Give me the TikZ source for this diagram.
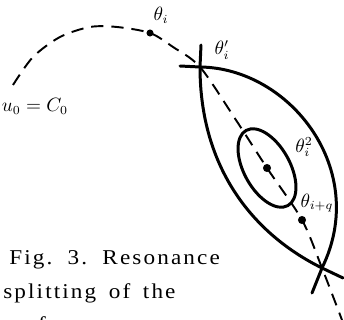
\documentclass[tikz,border=0pt]{standalone}
\usepackage{fontspec}
\newfontfamily\capfont{Liberation Serif}[LetterSpace=10,FakeStretch=1.1,WordSpace=1.6]
\usetikzlibrary{positioning}

\begin{document}
\begin{tikzpicture}[
  x=0.02cm, y=-0.02cm,
  branch/.style={line width=1.7pt, line cap=round, line join=round},
  axisline/.style={line width=1.1pt, dash pattern=on 7pt off 4.5pt},
  spot/.style={circle, fill, inner sep=0pt, minimum size=#1},
  spot/.default=4.6pt,
  lbl/.style={font=\fontsize{10.5}{12}\selectfont, inner sep=0pt},
  capline/.style={anchor=base west, inner sep=0pt,
    font=\capfont\fontsize{12}{14}\selectfont}]
  \useasboundingbox (0,0) rectangle (344,320);
  \clip (0,0) rectangle (344,320);
  % points on the dashed line
  \coordinate (x1) at (200,67);
  \coordinate (x2) at (322,268);
  \coordinate (c) at (267,168);
  \coordinate (thi) at (150,33);
  \coordinate (tq) at (302,220);
  % the two separatrix branches
  \draw[branch] (180,66) -- (x1) .. controls (290,68) and (370,170) .. (x2) -- (312,293);
  \draw[branch] (201,45) -- (x1) .. controls (200,170) and (255,235) .. (x2) -- (343,278);
  % inner loop
  \draw[branch] (c) ellipse [x radius=43, y radius=23, rotate=-61];
  \draw[axisline] plot[smooth] coordinates {(13,85) (33,57) (60,37) (90,27) (117,27)
    (thi) (173,47) (x1) (234,117) (c) (tq) (x2) (342,320)};
  \node[spot=4pt] (dthi) at (thi) {};
  \node[spot] (dc) at (c) {};
  \node[spot] (dtq) at (tq) {};
  % labels
  \node[lbl] (lthi) at (161,15) {$\theta_i$};
  \node[lbl] (lx1) at (222,50) {$\theta_i'$};
  \node[lbl] (lc) at (304,147) {$\theta_i^2$};
  \node[lbl] (ltq) at (317,203) {$\theta_{i+q}$};
  \node[lbl] (lu) at (35,106) {$u_0=C_0$};
  % caption
  \node[capline] (cap1) at (9,264) {Fig. 3. Resonance};
  \node[capline] (cap2) at (3,298) {splitting of the};
  \node[capline] (cap3) at (3,331) {surface:};
\end{tikzpicture}
\end{document}
